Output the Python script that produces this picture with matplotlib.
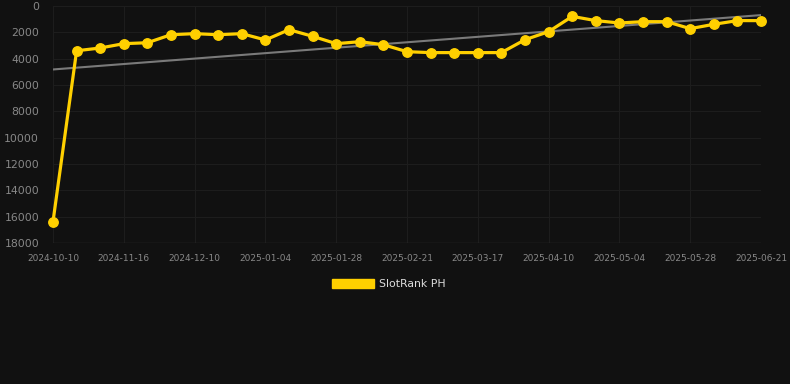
import matplotlib
matplotlib.use("Agg")
import matplotlib.pyplot as plt
from matplotlib.patches import Patch
import numpy as np

dates = ["2024-10-10", "2024-11-16", "2024-12-10", "2025-01-04", "2025-01-28",
         "2025-02-21", "2025-03-17", "2025-04-10", "2025-05-04", "2025-05-28",
         "2025-06-21"]
rank = [16380, 3400, 3190, 2860, 2790, 2180, 2100, 2180, 2100, 2580, 1800,
        2300, 2860, 2710, 2940, 3470, 3540, 3540, 3540, 3540, 2560, 1950,
        790, 1110, 1290, 1190, 1190, 1720, 1390, 1110, 1110]
series_name = "SlotRank PH"

bg = "#111111"
gold = "#FFD000"

fig = plt.figure(figsize=(7.9, 3.84), dpi=100, facecolor=bg)
ax = fig.add_axes([53 / 790, 1 - 243 / 384, 708 / 790, 237 / 384], facecolor=bg)

x = np.arange(len(rank))
# trend line (least squares over the series)
k, b = np.polyfit(x, rank, 1)
ax.plot(x, k * x + b, color="#7a7a7a", lw=1.5, zorder=2)
ax.plot(x, rank, color=gold, lw=2.3, marker="o", ms=6.8, clip_on=False, zorder=3)

ax.set_xlim(0, len(rank) - 1)
ax.set_ylim(18000, 0)
ax.set_yticks(range(0, 18001, 2000))
ax.set_xticks(x[::3])
ax.set_xticklabels(dates)

ax.grid(True, color="#1d1d1d", lw=0.8)
ax.set_axisbelow(True)
for s in ax.spines.values():
    s.set_visible(False)
ax.axhline(18000, color="#2e2e2e", lw=1, zorder=1)
ax.tick_params(axis="y", length=0, pad=10, labelsize=7.8, labelcolor="#888888")
ax.tick_params(axis="x", length=0, pad=8, labelsize=6.5, labelcolor="#888888")

fig.legend(handles=[Patch(facecolor=gold, edgecolor=gold, label=series_name)],
           loc="center", bbox_to_anchor=(389 / 790, 1 - 284 / 384),
           frameon=False, handlelength=3.8, handleheight=0.95, handletextpad=0.5,
           labelcolor="#dddddd", prop={"size": 7.8})

fig.savefig("out.png", dpi=100, facecolor=bg)
